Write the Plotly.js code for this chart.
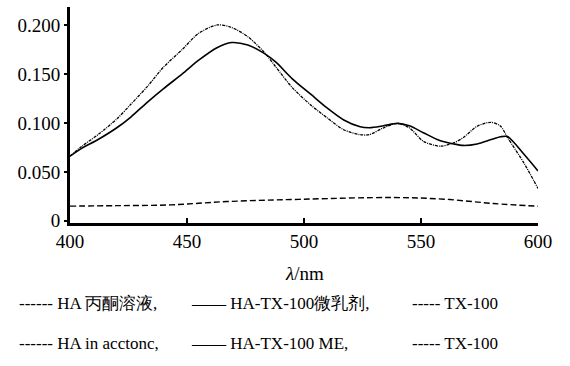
<!DOCTYPE html>
<html>
<head>
<meta charset="utf-8">
<script src="https://cdn.plot.ly/plotly-3.0.1.min.js"></script>
</head>
<body style="margin:0">
<div id="chart" style="width:570px;height:366px"></div>
<script>
// wavelength grid (nm)
const lambda = [400,405,412,420,426,433,440,448,455,463,469,476,483,488,495,503,510,517,524,528,534,540,545,551,558,564,568,574,580,584,587,594,600];
// HA in acetone (dash-dot)
const haAcetone = [0.066,0.076,0.088,0.104,0.119,0.137,0.157,0.175,0.1915,0.200,0.1975,0.188,0.172,0.157,0.136,0.118,0.105,0.093,0.088,0.088,0.095,0.0995,0.095,0.0813,0.0762,0.0797,0.0848,0.0966,0.1006,0.0966,0.085,0.059,0.033];
// HA-TX-100 ME (solid)
const haME = [0.066,0.074,0.083,0.095,0.106,0.121,0.135,0.150,0.164,0.177,0.182,0.1795,0.171,0.162,0.145,0.129,0.115,0.103,0.096,0.095,0.097,0.0995,0.097,0.090,0.082,0.0785,0.077,0.0785,0.083,0.0858,0.086,0.068,0.051];
// TX-100 (dashed)
const lambdaTX = [400,420,443,467,500,538,560,581,600];
const tx100 = [0.015,0.0155,0.0163,0.0197,0.0221,0.0238,0.0221,0.0177,0.0149];

const xTicks = [400,450,500,550,600];
const yTicks = [0,0.05,0.1,0.15,0.2];
const yTickText = ['0','0.050','0.100','0.150','0.200'];
const legendRow1 = ['------ HA 丙酮溶液,', '—— HA-TX-100微乳剂,', '----- TX-100'];
const legendRow2 = ['------ HA in acctonc,', '—— HA-TX-100 ME,', '----- TX-100'];

const FONT = 'Liberation Serif';

const traces = [
  {x: lambda, y: haAcetone, mode: 'lines', line: {color: '#000', width: 1.3, dash: '3px,1px,1px,1px', shape: 'spline', smoothing: 0.8}},
  {x: lambda, y: haME, mode: 'lines', line: {color: '#000', width: 1.6, shape: 'spline', smoothing: 0.8}},
  {x: lambdaTX, y: tx100, mode: 'lines', line: {color: '#000', width: 1.4, dash: '6px,3px', shape: 'spline'}}
];

const W = 570, H = 366, L = 70, R = 32, T = 7, B = 142.5;
const pw = W - L - R, ph = H - T - B;
function px2paperX(px){ return (px - L) / pw; }
function px2paperY(py){ return (H - B - py) / ph; }

const ann = [];
ann.push({text: '<i>λ</i>/nm', x: px2paperX(304), y: px2paperY(274), xref: 'paper', yref: 'paper', showarrow: false, xanchor: 'center', yanchor: 'middle', font: {family: FONT, size: 19, color: '#000'}});
const rowX = [17, 189, 500];
const rowAnchor = ['left', 'left', 'right'];
legendRow1.forEach((t, i) => ann.push({text: t, x: px2paperX(rowX[i]), y: px2paperY(304), xref: 'paper', yref: 'paper', showarrow: false, xanchor: rowAnchor[i], yanchor: 'middle', font: {family: FONT, size: 17, color: '#000'}}));
legendRow2.forEach((t, i) => ann.push({text: t, x: px2paperX(rowX[i]), y: px2paperY(344), xref: 'paper', yref: 'paper', showarrow: false, xanchor: rowAnchor[i], yanchor: 'middle', font: {family: FONT, size: 17, color: '#000'}}));

const layout = {
  width: W, height: H,
  margin: {l: L, r: R, t: T, b: B, pad: 0},
  showlegend: false,
  paper_bgcolor: '#fff', plot_bgcolor: '#fff',
  font: {family: FONT, size: 19, color: '#000'},
  xaxis: {
    range: [400, 600], tickvals: xTicks, ticktext: xTicks.map(String),
    showgrid: false, zeroline: false, showline: true, linecolor: '#000', linewidth: 2.5,
    ticks: 'inside', ticklen: 5, tickwidth: 2, tickcolor: '#000',
    tickfont: {family: FONT, size: 19, color: '#000'}
  },
  yaxis: {
    range: [-0.0022, 0.2183], tickvals: yTicks, ticktext: yTickText,
    showgrid: false, zeroline: false, showline: true, linecolor: '#000', linewidth: 3,
    ticks: 'outside', ticklen: 3, tickwidth: 2, tickcolor: '#000',
    tickfont: {family: FONT, size: 19, color: '#000'}
  },
  annotations: ann
};

Plotly.newPlot('chart', traces, layout, {displayModeBar: false, staticPlot: true});
</script>
</body>
</html>
